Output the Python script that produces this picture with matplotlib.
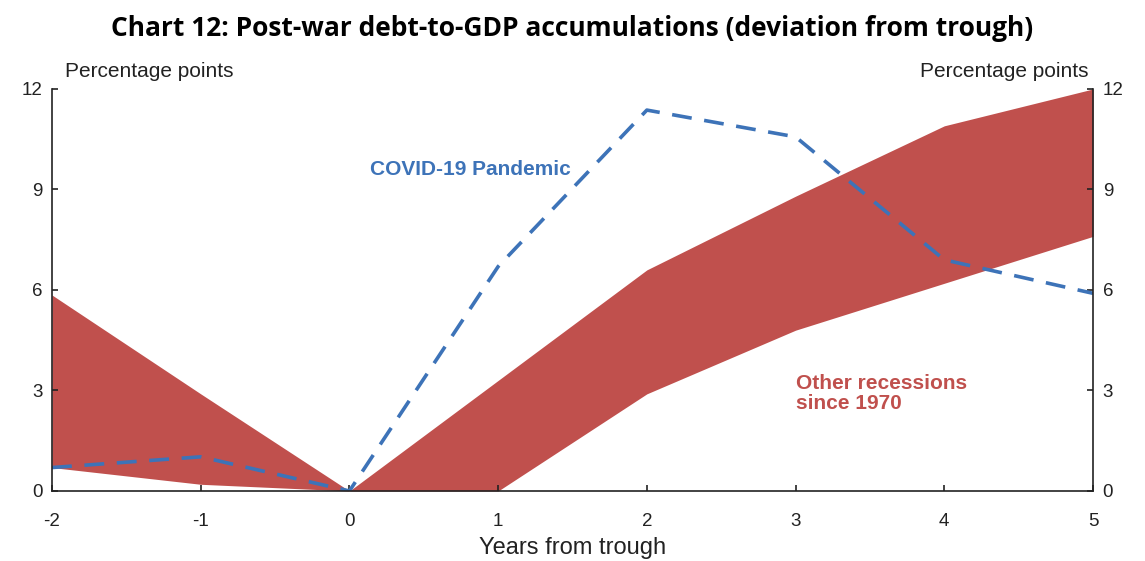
import numpy as np
import matplotlib
matplotlib.use("Agg")
import matplotlib.pyplot as plt

plt.rcParams['font.family'] = ['Liberation Sans', 'DejaVu Sans']
plt.rcParams['axes.unicode_minus'] = False

years = [-2, -1, 0, 1, 2, 3, 4, 5]
band_upper = [5.85, 2.9, 0.0, 3.3, 6.6, 8.8, 10.9, 12.0]
band_lower = [0.7, 0.2, 0.0, 0.0, 2.9, 4.8, 6.2, 7.6]
covid = [0.7, 1.02, 0.0, 6.7, 11.37, 10.57, 6.9, 5.9]

y_ticks = [0, 3, 6, 9, 12]

red = '#C0504D'
blue = '#3D73B8'

fig = plt.figure(figsize=(11.45, 5.61), dpi=100)
ax = fig.add_axes([0.0454, 0.1248, 0.9092, 0.7166])

ax.fill_between(years, band_lower, band_upper, color=red, linewidth=0)
ax.plot(years, covid, color=blue, linewidth=2.6, dashes=(5.5, 3.5))

ax.set_xlim(-2, 5)
ax.set_ylim(0, 12)
ax.set_xticks(years)
ax.set_yticks(y_ticks)
ax.spines['top'].set_visible(False)
for s in ['left', 'right', 'bottom']:
    ax.spines[s].set_linewidth(1.2)
    ax.spines[s].set_color('#222222')
ax.tick_params(axis='both', direction='in', length=4, width=1.2, labelsize=13.5,
               colors='#222222')
ax.tick_params(axis='y', left=True, right=True, labelleft=True, labelright=True, pad=7)
ax.tick_params(axis='x', pad=16)

ax.set_xlabel('Years from trough', fontsize=17, color='#222222', labelpad=5)

ax.text(0.14, 9.6, 'COVID-19 Pandemic', color=blue, fontsize=15, fontweight='bold',
        va='center', ha='left')
ax.text(3.0, 3.5, 'Other recessions\nsince 1970', color=red, fontsize=15,
        fontweight='bold', va='top', ha='left', linespacing=1.1)

fig.text(0.057, 0.873, 'Percentage points', fontsize=15, color='#222222', va='center')
fig.text(0.951, 0.873, 'Percentage points', fontsize=15, color='#222222', va='center',
         ha='right')
fig.text(0.5, 0.95, 'Chart 12: Post-war debt-to-GDP accumulations (deviation from trough)',
         fontsize=19, fontweight='bold', ha='center', va='center',
         family=['Open Sans', 'DejaVu Sans'])

fig.savefig('out.png', dpi=100)
